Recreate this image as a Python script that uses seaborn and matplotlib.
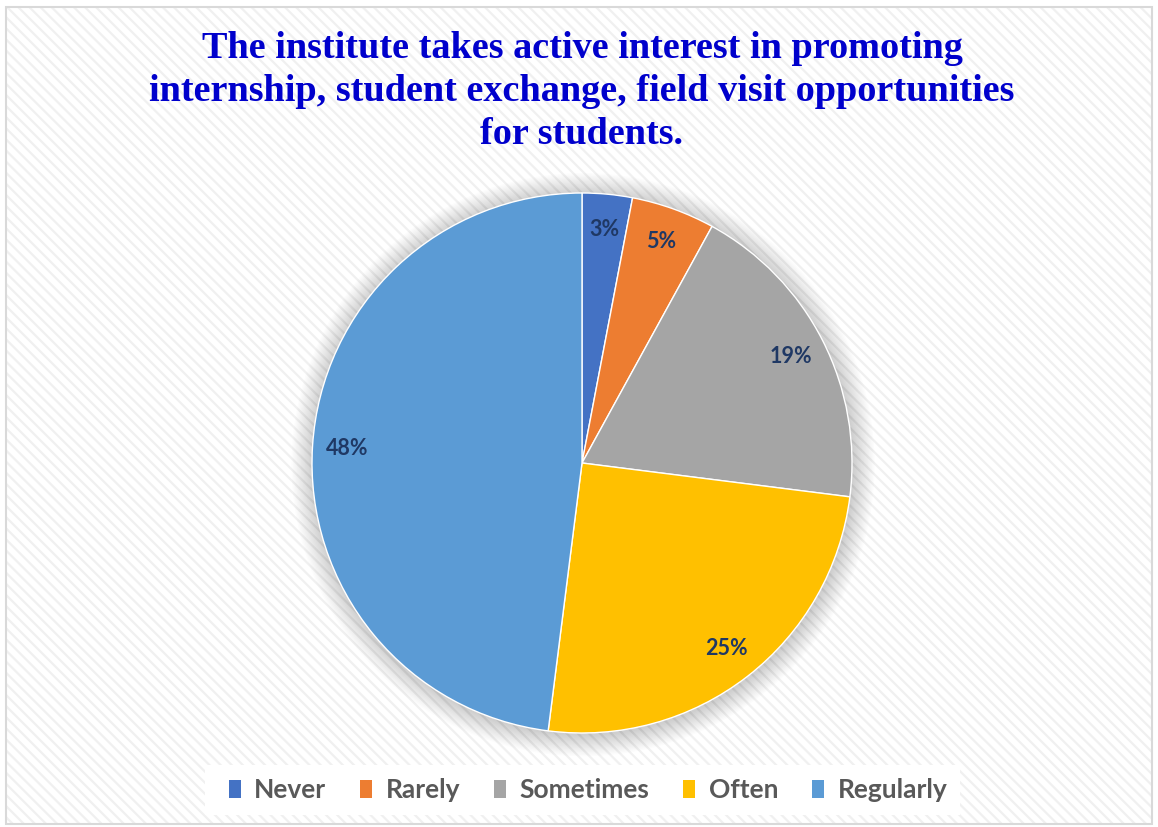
import matplotlib
matplotlib.use('Agg')
import matplotlib.pyplot as plt
import matplotlib.patches as mpatches
import seaborn as sns

# Data
categories = ['Never', 'Rarely', 'Sometimes', 'Often', 'Regularly']
shares = [3, 5, 19, 25, 48]
colors = ['#4472C4', '#ED7D31', '#A5A5A5', '#FFC000', '#5B9BD5']
title = ('The institute takes active interest in promoting\n'
         'internship, student exchange, field visit opportunities\n'
         'for students.')

sns.set_style('white')
plt.rcParams['hatch.linewidth'] = 1.6
palette = sns.color_palette(colors)

W, H = 1158, 827
fig = plt.figure(figsize=(W / 100, H / 100), dpi=100)
fig.patch.set_facecolor('white')

# striped background + thin grey border
stripes = mpatches.Rectangle((6 / W, 3 / H), (W - 12) / W, (H - 10) / H,
                             transform=fig.transFigure, facecolor='white',
                             edgecolor='#F0F0F0', linewidth=0, hatch='\\\\\\',
                             zorder=-10)
border = mpatches.Rectangle((6 / W, 3 / H), (W - 12) / W, (H - 10) / H,
                            transform=fig.transFigure, facecolor='none',
                            edgecolor='#D9D9D9', linewidth=1.5, zorder=-9)
# white box behind the legend
legbox = mpatches.Rectangle((205 / W, 1 - 815 / H), 755 / W, 50 / H,
                            transform=fig.transFigure, facecolor='white',
                            edgecolor='none', zorder=-8)
fig.patches.extend([stripes, border, legbox])

# pie axes, centre (582, 463), radius 270 px
cx, cy, r = 582, 463, 270
ax = fig.add_axes([(cx - r) / W, (H - cy - r) / H, 2 * r / W, 2 * r / H])
ax.set_facecolor('none')

# soft shadow around the pie
for k in range(16):
    glow = mpatches.Circle((0.004, -0.006), 1.0 + 0.005 * (k + 1), facecolor='#000000',
                           alpha=0.012, edgecolor='none', clip_on=False, zorder=0)
    ax.add_patch(glow)

wedges, texts, autotexts = ax.pie(
    shares, colors=palette, startangle=90, counterclock=False,
    autopct='%1.0f%%', pctdistance=0.87, radius=1.0,
    wedgeprops=dict(edgecolor='white', linewidth=1.0),
    textprops=dict(color='#1F3864', fontsize=15.5, fontweight='bold',
                   family='Lato'))
for w in wedges:
    w.set_zorder(2)
for t in autotexts:
    t.set_zorder(3)
ax.set_xlim(-1, 1)
ax.set_ylim(-1, 1)
ax.set_aspect('equal')
ax.axis('off')

fig.text(cx / W, 1 - 31 / H, title, ha='center', va='top',
         fontsize=27.5, fontweight='bold', color='#0000CC',
         family='Liberation Serif', linespacing=1.3)

handles = [mpatches.Patch(facecolor=c, edgecolor='none', label=l)
           for c, l in zip(palette, categories)]
leg = fig.legend(handles=handles, loc='center', bbox_to_anchor=(588 / W, 1 - 790 / H),
                 ncol=5, frameon=False,
                 handlelength=0.45, handleheight=0.7, handletextpad=0.5,
                 columnspacing=1.3, borderpad=0.4,
                 prop=dict(family='Lato', weight='bold', size=19))
for t in leg.get_texts():
    t.set_color('#595959')

fig.savefig('out.png', dpi=100)
